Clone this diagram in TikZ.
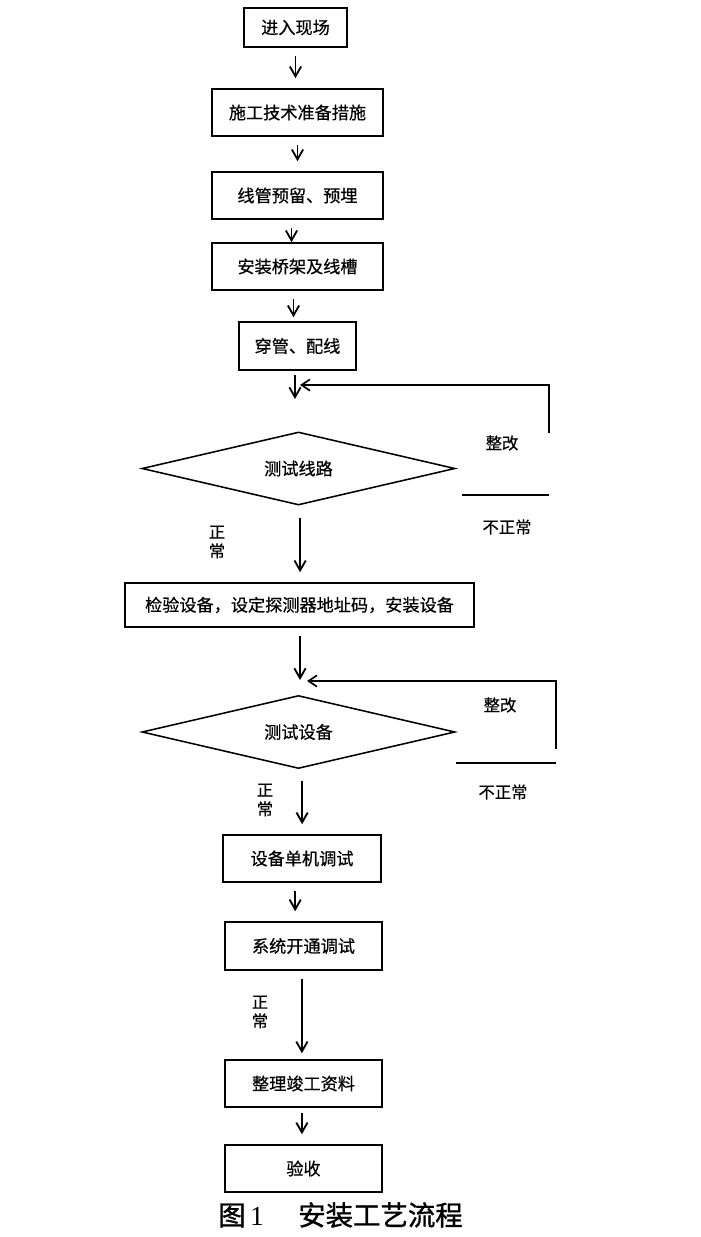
\documentclass[tikz,border=0pt]{standalone}
\usepackage{fontspec}
\setmainfont{Noto Sans CJK SC}
\newfontfamily\stepfont{Noto Sans CJK SC}[FakeBold=0.5]
\newfontfamily\capfont{Noto Sans CJK SC}[FakeBold=1.2]
\newfontfamily\numfont{Liberation Serif}
\usetikzlibrary{shapes.geometric,arrows.meta}

\begin{document}
\begin{tikzpicture}[x=0.025cm,y=-0.025cm,
        stepbox/.style={draw,line width=1.1pt,inner sep=0pt,font=\stepfont\fontsize{12.2}{14}\selectfont},
        testbox/.style={draw,diamond,aspect=4,inner sep=0pt,line width=1.1pt,
            minimum width=7.825cm,minimum height=1.825cm,font=\stepfont\fontsize{12.2}{14}\selectfont},
        arr/.style={-{Straight Barb[length=7pt,width=8pt,line width=1.3pt]},line width=1.4pt,shorten <=0.2cm,shorten >=0.25cm},
        back/.style={-{Straight Barb[length=6pt,width=8pt,line width=1.2pt]},line width=1.2pt},
        lbl/.style={align=center,font=\stepfont\fontsize{11.6}{13.5}\selectfont}]
    \useasboundingbox (0,0) rectangle (700,1237);
    \node[stepbox,minimum width=2.575cm,minimum height=0.975cm] (enter) at (295.5,27.5) {进入现场};
    \node[stepbox,minimum width=4.275cm,minimum height=1.175cm] (prep) at (297.5,112.5) {施工技术准备措施};
    \node[stepbox,minimum width=4.275cm,minimum height=1.175cm] (pipe) at (297.5,195.5) {线管预留、预埋};
    \node[stepbox,minimum width=4.275cm,minimum height=1.175cm] (tray) at (297.5,266.5) {安装桥架及线槽};
    \node[stepbox,minimum width=2.925cm,minimum height=1.2cm] (wire) at (297.5,346) {穿管、配线};
    \node[testbox] (testline) at (298.5,468.5) {测试线路};
    \node[stepbox,minimum width=8.725cm,minimum height=1.1cm] (check) at (299.5,605) {检验设备，设定探测器地址码，安装设备};
    \node[testbox] (testdev) at (298.5,732) {测试设备};
    \node[stepbox,minimum width=3.95cm,minimum height=1.175cm] (single) at (302,858.5) {设备单机调试};
    \node[stepbox,minimum width=3.925cm,minimum height=1.2cm] (system) at (303.5,946) {系统开通调试};
    \node[stepbox,minimum width=3.925cm,minimum height=1.175cm] (docs) at (303.5,1083.5) {整理竣工资料};
    \node[stepbox,minimum width=3.925cm,minimum height=1.175cm] (accept) at (303.5,1168.5) {验收};

    % loop points
    \coordinate (in1) at (295,399);
    \coordinate (back1) at (300,385);
    \coordinate (up1) at (549,433);
    \coordinate (barL1) at (462,495);
    \coordinate (barR1) at (549,495);
    \coordinate (in2) at (300,680);
    \coordinate (back2) at (307,681);
    \coordinate (up2) at (556,749);
    \coordinate (barL2) at (456,763);
    \coordinate (barR2) at (556,763);

    \draw[arr] (enter.south) -- (enter.south |- prep.north);
    \draw[arr] (prep.south) -- (prep.south |- pipe.north);
    \draw[arr,shorten >=0pt] ([xshift=-0.15cm]pipe.south) -- ([xshift=-0.15cm]pipe.south |- tray.north);
    \draw[arr,shorten >=0.1cm] ([xshift=-0.1cm]tray.south) -- ([xshift=-0.1cm]tray.south |- wire.north);
    \draw[arr,shorten >=0pt,shorten <=0.1cm] (in1 |- wire.south) -- (in1);
    \draw[back] (up1) |- (back1);
    \draw[line width=1.2pt] (barL1) -- (barR1);
    \draw[arr,shorten <=0.3cm] ([xshift=0.04cm]testline.south) -- ([xshift=0.04cm]testline.south |- check.north);
    \draw[arr,shorten >=0pt] (in2 |- check.south) -- (in2);
    \draw[back] (up2) |- (back2);
    \draw[line width=1.2pt] (barL2) -- (barR2);
    \draw[arr,shorten <=0.3cm] ([xshift=0.09cm]testdev.south) -- ([xshift=0.09cm]testdev.south |- single.north);
    \draw[arr] ([xshift=-0.17cm]single.south) -- ([xshift=-0.17cm]single.south |- system.north);
    \draw[arr,shorten >=0.15cm] ([xshift=-0.04cm]system.south) -- ([xshift=-0.04cm]system.south |- docs.north);
    \draw[arr,shorten <=0.12cm] ([xshift=-0.04cm]docs.south) -- ([xshift=-0.04cm]docs.south |- accept.north);

    \node[lbl] (fix1) at (502,443) {整改};
    \node[lbl] (bad1) at (507,527) {不正常};
    \node[lbl] (ok1) at (217,542) {正\\常};
    \node[lbl] (fix2) at (500,705) {整改};
    \node[lbl] (bad2) at (503,792) {不正常};
    \node[lbl] (ok2) at (265,800) {正\\常};
    \node[lbl] (ok3) at (260,1012) {正\\常};
    \node (caption) at (340.5,1215) {\capfont\fontsize{19.5}{22}\selectfont 图\,{\numfont 1}\hspace{1.25em}安装工艺流程};
\end{tikzpicture}
\end{document}
